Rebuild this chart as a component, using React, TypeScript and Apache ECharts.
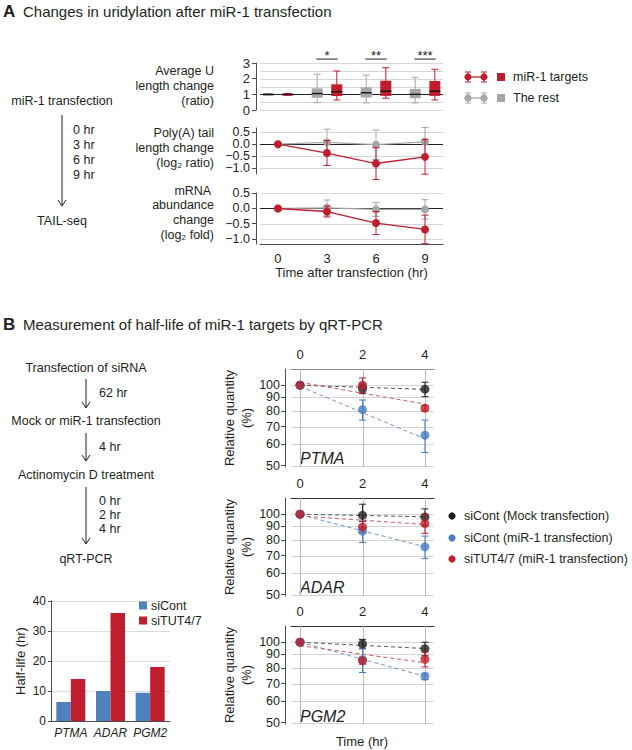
import React, { useEffect, useRef } from 'react';
import * as echarts from 'echarts';

const FONT = '"Liberation Sans", Arial, Helvetica, sans-serif';
const TXT = '#231f20';
const AXIS = '#4d4d4d';
const RED = '#be1e2d';
const GRAY = '#a6a6a6';
const BLUE = '#4a7dbf';
const BLACK = '#231f20';
const BAR_BLUE = '#4f81bd';

// ---------------- Panel A data ----------------
const aTimes = [0, 3, 6, 9];
// [min, q1, median, q3, max]
const restBox = [
  [0.95, 0.97, 1.0, 1.03, 1.05],
  [0.47, 0.78, 1.05, 1.38, 2.28],
  [0.45, 0.8, 1.1, 1.45, 2.23],
  [0.45, 0.75, 1.0, 1.35, 2.09],
];
const targetBox = [
  [0.94, 0.96, 1.0, 1.04, 1.06],
  [0.64, 0.89, 1.17, 1.64, 2.49],
  [0.75, 0.9, 1.2, 1.87, 2.7],
  [0.64, 0.9, 1.2, 1.85, 2.6],
];
const sigTimes = [3, 6, 9];
const sigLabels = ['*', '**', '***'];
const sigLineY = 3.25;
const uTicks = [0, 1, 2, 3];
const uGridLines = [0, 0.5, 1.5, 2, 2.5, 3];
const logTicks = [-1, -0.5, 0, 0.5];
const logTicksA = [-0.5, 0.5];
const logTicksB = [-1, 0];
const logGridLines = [-1, -0.5, 0.5];

const polyTargets = [0, -0.37, -0.81, -0.53];
const polyTargetsErr = [0, 0.52, 0.67, 0.73];
const polyRest = [0, 0.08, -0.02, 0.1];
const polyRestErr = [0, 0.55, 0.62, 0.6];

const mrnaTargets = [0, -0.1, -0.48, -0.69];
const mrnaTargetsErr = [0, 0.18, 0.38, 0.47];
const mrnaRest = [0, 0.02, -0.03, -0.03];
const mrnaRestErr = [0, 0.26, 0.23, 0.32];

// ---------------- Panel B data ----------------
const bTimes = [0, 2, 4];
const genes = ['PTMA', 'ADAR', 'PGM2'];
const mockMean = [[100, 97, 96.6], [100, 99, 97.7], [100, 98.5, 94.5]];
const mockErr = [[0, 4, 6], [0, 10, 7], [0, 4, 5.5]];
const contMean = [[100, 81, 65], [100, 86.4, 75.5], [100, 86, 74.5]];
const contErr = [[0, 7, 9], [0, 8, 7.3], [0, 9, 2]];
const tutMean = [[100, 100, 82], [100, 89.6, 92.3], [100, 85.3, 86.3]];
const tutErr = [[0, 6.5, 2], [0, 4.3, 7.5], [0, 2.5, 5.5]];
const fitX = [0, 4];
const mockFit = [[100, 96.5], [100, 97.8], [100, 94.7]];
const contFit = [[99, 63], [99.5, 75.5], [100, 74.5]];
const tutFit = [[102.5, 85], [98.5, 91.5], [97, 83.8]];
const qTicks = [50, 60, 70, 80, 90, 100];
const qTicksA = [60, 80, 100];
const qTicksB = [50, 70, 90];

// ---------------- Half-life bars ----------------
const halfLifeCont = [6.3, 10, 9.4];
const halfLifeTut = [14, 36, 18];

const lg = (v: number) => Math.log10(v);

function errRender(color: string, cap: number) {
  return (params: any, api: any) => {
    const x = api.value(0);
    const lo = api.coord([x, api.value(1)]);
    const hi = api.coord([x, api.value(2)]);
    const st = { stroke: color, lineWidth: 1 };
    return {
      type: 'group',
      children: [
        { type: 'line', shape: { x1: lo[0], y1: lo[1], x2: hi[0], y2: hi[1] }, style: st },
        { type: 'line', shape: { x1: lo[0] - cap, y1: lo[1], x2: lo[0] + cap, y2: lo[1] }, style: st },
        { type: 'line', shape: { x1: hi[0] - cap, y1: hi[1], x2: hi[0] + cap, y2: hi[1] }, style: st },
      ],
    };
  };
}

function errSeries(idx: number, xs: number[], means: number[], errs: number[], color: string, cap: number, tf = (v: number) => v) {
  const data: number[][] = [];
  xs.forEach((t, i) => {
    if (errs[i] > 0) data.push([t, tf(means[i] - errs[i]), tf(means[i] + errs[i])]);
  });
  return {
    type: 'custom', xAxisIndex: idx, yAxisIndex: idx, silent: true, z: 3, clip: false,
    encode: { x: 0, y: [1, 2] },
    data,
    renderItem: errRender(color, cap),
  };
}

function boxSeries(offset: number, boxes: number[][], color: string) {
  return {
    type: 'custom', xAxisIndex: 0, yAxisIndex: 0, silent: true, z: 3, clip: false,
    encode: { x: 0, y: [1, 2, 3, 4, 5] },
    data: aTimes.map((t, i) => [t, ...boxes[i]]),
    renderItem: (params: any, api: any) => {
      const x = api.value(0) + offset;
      const c = (v: number) => api.coord([x, v]);
      const pMin = c(api.value(1));
      const pQ1 = c(api.value(2));
      const pMd = c(api.value(3));
      const pQ3 = c(api.value(4));
      const pMax = c(api.value(5));
      const xc = pMd[0];
      const hw = 5.5;
      const cw = 3.5;
      const st = { stroke: color, lineWidth: 1 };
      return {
        type: 'group',
        children: [
          { type: 'line', shape: { x1: xc, y1: pMax[1], x2: xc, y2: pMin[1] }, style: st },
          { type: 'line', shape: { x1: xc - cw, y1: pMax[1], x2: xc + cw, y2: pMax[1] }, style: st },
          { type: 'line', shape: { x1: xc - cw, y1: pMin[1], x2: xc + cw, y2: pMin[1] }, style: st },
          { type: 'rect', shape: { x: xc - hw, y: pQ3[1], width: hw * 2, height: Math.max(pQ1[1] - pQ3[1], 2) }, style: { fill: color } },
          { type: 'line', shape: { x1: xc - hw, y1: pMd[1], x2: xc + hw, y2: pMd[1] }, style: { stroke: '#111', lineWidth: 1.4 } },
        ],
      };
    },
  };
}

function hGrid(idx: number, vals: number[], color: string, width = 1, z = 1) {
  return {
    type: 'custom', xAxisIndex: idx, yAxisIndex: idx, silent: true, z,
    encode: { x: 0, y: 1 },
    data: vals.map((v) => [0, v]),
    renderItem: (params: any, api: any) => {
      const cs = params.coordSys;
      const y = Math.round(api.coord([api.value(0), api.value(1)])[1]) + 0.5;
      return { type: 'line', shape: { x1: cs.x, y1: y, x2: cs.x + cs.width, y2: y }, style: { stroke: color, lineWidth: width } };
    },
  };
}

function vGrid(idx: number, vals: number[], color: string) {
  return {
    type: 'custom', xAxisIndex: idx, yAxisIndex: idx, silent: true, z: 1,
    encode: { x: 0, y: 1 },
    data: vals.map((v) => [v, 2]),
    renderItem: (params: any, api: any) => {
      const cs = params.coordSys;
      const x = Math.round(api.coord([api.value(0), api.value(1)])[0]) + 0.5;
      return { type: 'line', shape: { x1: x, y1: cs.y, x2: x, y2: cs.y + cs.height }, style: { stroke: color, lineWidth: 1 } };
    },
  };
}

function txt(text: string, x: number, y: number, o: any = {}) {
  const align = o.align || 'left';
  return {
    type: 'text', x, y, silent: true,
    style: {
      text, fill: TXT,
      fontSize: o.size || 12.5, fontFamily: FONT,
      fontWeight: o.weight || 'normal', fontStyle: o.style || 'normal',
      textAlign: align, align, textVerticalAlign: 'middle', verticalAlign: 'middle',
    },
  };
}

function arrow(x: number, y1: number, y2: number) {
  return [
    { type: 'line', silent: true, shape: { x1: x, y1, x2: x, y2 }, style: { stroke: TXT, lineWidth: 1 } },
    { type: 'polyline', silent: true, shape: { points: [[x - 4, y2 - 6], [x, y2], [x + 4, y2 - 6]] }, style: { stroke: TXT, lineWidth: 1, fill: null } },
  ];
}

function legendA(y: number, color: string, label: string) {
  const st = { stroke: color, lineWidth: 1 };
  const els: any[] = [
    { type: 'line', shape: { x1: 468, y1: y, x2: 484, y2: y }, style: { stroke: color, lineWidth: 1.3 } },
  ];
  [468, 484].forEach((x) => {
    els.push({ type: 'line', shape: { x1: x, y1: y - 5, x2: x, y2: y + 5 }, style: st });
    els.push({ type: 'line', shape: { x1: x - 3, y1: y - 5, x2: x + 3, y2: y - 5 }, style: st });
    els.push({ type: 'line', shape: { x1: x - 3, y1: y + 5, x2: x + 3, y2: y + 5 }, style: st });
    els.push({ type: 'circle', shape: { cx: x, cy: y, r: 3.6 }, style: { fill: color } });
  });
  els.push({ type: 'rect', shape: { x: 497, y: y - 4, width: 8, height: 8 }, style: { fill: color } });
  els.push(txt(label, 513, y));
  return els.map((e) => ({ ...e, silent: true }));
}

function buildOption() {
  const lab13 = { color: TXT, fontSize: 13, fontFamily: FONT, showMinLabel: true, showMaxLabel: true, hideOverlap: false };
  const labTight = { ...lab13, fontSize: 12.5, lineHeight: 11 };
  const grids = [
    { left: 260, top: 63, width: 183, height: 47 },
    { left: 260, top: 128, width: 183, height: 46 },
    { left: 260, top: 193, width: 183, height: 51 },
    { left: 291, top: 369, width: 143, height: 98 },
    { left: 291, top: 498, width: 143, height: 98 },
    { left: 291, top: 626, width: 143, height: 98 },
    { left: 51, top: 601, width: 119, height: 120 },
  ].map((g) => ({ ...g, containLabel: false, outerBoundsMode: 'none' }));

  const half = (v: number) => Math.abs(v * 2 - Math.round(v * 2)) < 1e-6;
  const fmtLog = (v: number) => (half(v) ? (v < 0 ? '\u2212' : '') + Math.abs(v).toFixed(1) : '');

  const xAxes: any[] = [0, 1, 2].map((i) => ({
    type: 'value', gridIndex: i, min: -1.1, max: 10.1, show: i === 2,
    axisLine: { show: true, onZero: false, lineStyle: { color: AXIS, width: 1 } },
    axisTick: { show: false },
    axisLabel: { ...lab13, customValues: aTimes, margin: 8, formatter: (v: number) => String(v) },
    splitLine: { show: false },
    name: i === 2 ? 'Time after transfection (hr)' : '',
    nameLocation: 'middle', nameGap: 21,
    nameTextStyle: { color: TXT, fontSize: 13, fontFamily: FONT },
  }));
  [0, 1, 2].forEach((g) => {
    xAxes.push({
      type: 'value', gridIndex: 3 + g, position: 'top', min: -0.29, max: 4.29,
      axisLine: { show: true, onZero: false, lineStyle: { color: g === 0 ? '#8c8c8c' : '#333', width: 1.2 } },
      axisTick: { show: false },
      axisLabel: { ...lab13, customValues: bTimes, margin: 8, formatter: (v: number) => String(v) },
      splitLine: { show: false },
    });
  });
  xAxes.push({
    type: 'category', gridIndex: 6, data: genes,
    axisLine: { show: true, onZero: false, lineStyle: { color: AXIS, width: 1 } },
    axisTick: { show: false },
    axisLabel: { color: TXT, fontSize: 12, fontFamily: FONT, fontStyle: 'italic', margin: 6, interval: 0, hideOverlap: false },
    splitLine: { show: false },
  });

  const yBase = {
    type: 'value', offset: 4, position: 'left',
    axisLine: { show: true, onZero: false, lineStyle: { color: AXIS, width: 1 } },
    splitLine: { show: false },
  };
  const tickOf = (vals: number[]) => ({ show: true, length: 4, customValues: vals, lineStyle: { color: AXIS } });
  const yAxes: any[] = [
    {
      ...yBase, gridIndex: 0, min: 0, max: 3,
      axisTick: tickOf(uTicks),
      axisLabel: { ...lab13, customValues: uTicks, margin: 6, formatter: (v: number) => (Number.isInteger(v) ? String(v) : '') },
    },
    {
      ...yBase, gridIndex: 1, min: -1.25, max: 0.68,
      axisTick: tickOf(logTicksA),
      axisLabel: { ...labTight, customValues: logTicksA, margin: 6, formatter: fmtLog },
    },
    {
      ...yBase, gridIndex: 2, min: -1.17, max: 0.51,
      axisTick: tickOf(logTicks),
      axisLabel: { ...labTight, customValues: logTicks, margin: 6, formatter: fmtLog },
    },
  ];
  const qFmt = (v: number) => {
    const r = Math.pow(10, v);
    const n = Math.round(r);
    return Math.abs(r - n) < 0.05 && n % 10 === 0 ? String(n) : '';
  };
  [0, 1, 2].forEach((g) => {
    yAxes.push({
      ...yBase, gridIndex: 3 + g, offset: 6, min: lg(49.4), max: lg(115),
      axisTick: tickOf(qTicksA.map(lg)),
      axisLabel: { ...labTight, customValues: qTicksA.map(lg), margin: 5, formatter: qFmt },
      name: 'Relative quantity\n(%)', nameLocation: 'middle', nameRotate: 90, nameGap: 28,
      nameTextStyle: { color: TXT, fontSize: 13, fontFamily: FONT, lineHeight: 17 },
    });
  });
  yAxes.push({
    type: 'value', gridIndex: 6, min: 0, max: 40, interval: 10,
    axisLine: { show: true, onZero: false, lineStyle: { color: AXIS, width: 1 } },
    axisTick: { show: true, length: 3, lineStyle: { color: AXIS } },
    axisLabel: { color: TXT, fontSize: 12, fontFamily: FONT, margin: 5, showMinLabel: true, showMaxLabel: true },
    splitLine: { show: true, lineStyle: { color: '#dcdcdc', width: 1 } },
    name: 'Half-life (hr)', nameLocation: 'middle', nameRotate: 90, nameGap: 24,
    nameTextStyle: { color: TXT, fontSize: 13, fontFamily: FONT },
  });
  // secondary label-only axes (interleaved tick labels, so none are dropped)
  yAxes.push({
    ...yBase, gridIndex: 1, min: -1.25, max: 0.68,
    axisLine: { show: false, onZero: false },
    axisTick: tickOf(logTicksB),
    axisLabel: { ...labTight, customValues: logTicksB, margin: 6, formatter: fmtLog },
  });
  [0, 1, 2].forEach((g) => {
    yAxes.push({
      ...yBase, gridIndex: 3 + g, offset: 6, min: lg(49.4), max: lg(115),
      axisLine: { show: false, onZero: false },
      axisTick: tickOf(qTicksB.map(lg)),
      axisLabel: { ...labTight, customValues: qTicksB.map(lg), margin: 5, formatter: qFmt },
    });
  });

  const series: any[] = [];
  // gridlines panel A
  series.push(hGrid(0, uGridLines, '#d6d6d6'));
  series.push(hGrid(0, [1], '#222', 1.2, 2));
  series.push(hGrid(1, logGridLines, '#d6d6d6'));
  series.push(hGrid(1, [0], '#222', 1.2, 2));
  series.push(hGrid(2, logGridLines, '#d6d6d6'));
  series.push(hGrid(2, [0], '#222', 1.2, 2));

  // boxes
  series.push(boxSeries(-0.6, restBox, GRAY));
  series.push(boxSeries(0.6, targetBox, RED));
  // significance marks
  series.push({
    type: 'custom', xAxisIndex: 0, yAxisIndex: 0, silent: true, z: 5, clip: false,
    encode: { x: 0, y: 1 },
    data: sigTimes.map((t) => [t, sigLineY]),
    renderItem: (params: any, api: any) => {
      const t = api.value(0);
      const y = api.value(1);
      const p1 = api.coord([t - 0.65, y]);
      const p2 = api.coord([t + 0.65, y]);
      return {
        type: 'group',
        children: [
          { type: 'line', shape: { x1: p1[0], y1: p1[1], x2: p2[0], y2: p2[1] }, style: { stroke: TXT, lineWidth: 1 } },
          {
            type: 'text', x: (p1[0] + p2[0]) / 2, y: p1[1] - 4,
            style: { text: sigLabels[params.dataIndex], fill: TXT, fontSize: 13, fontFamily: FONT, textAlign: 'center', align: 'center', textVerticalAlign: 'middle', verticalAlign: 'middle' },
          },
        ],
      };
    },
  });

  // line panels A
  const lineA = (idx: number, vals: number[], errs: number[], color: string, z: number) => {
    series.push({ ...errSeries(idx, aTimes, vals, errs, color, 3.5), z: z - 1 });
    series.push({
      type: 'line', xAxisIndex: idx, yAxisIndex: idx, silent: true, z,
      data: aTimes.map((t, i) => [t, vals[i]]),
      symbol: 'circle', symbolSize: 8, showAllSymbol: true,
      itemStyle: { color }, lineStyle: { color, width: 1.3 },
    });
  };
  lineA(1, polyRest, polyRestErr, GRAY, 4);
  lineA(1, polyTargets, polyTargetsErr, RED, 6);
  lineA(2, mrnaRest, mrnaRestErr, GRAY, 4);
  lineA(2, mrnaTargets, mrnaTargetsErr, RED, 6);

  // panel B
  const groups = [
    { mean: mockMean, err: mockErr, fit: mockFit, color: BLACK, fitColor: '#555555' },
    { mean: contMean, err: contErr, fit: contFit, color: BLUE, fitColor: '#7097c8' },
    { mean: tutMean, err: tutErr, fit: tutFit, color: RED, fitColor: '#d0575f' },
  ];
  [0, 1, 2].forEach((g) => {
    const idx = 3 + g;
    series.push(hGrid(idx, qTicks.map(lg), '#d4d4d4'));
    series.push(vGrid(idx, bTimes, '#b8b8b8'));
    groups.forEach((gr) => {
      series.push({
        type: 'line', xAxisIndex: idx, yAxisIndex: idx, silent: true, z: 2,
        data: fitX.map((x, i) => [x, lg(gr.fit[g][i])]),
        symbol: 'none', lineStyle: { color: gr.fitColor, width: 1, type: [4, 3] },
      });
    });
    [2, 1, 0].forEach((k) => {
      const gr = groups[k];
      series.push({ ...errSeries(idx, bTimes, gr.mean[g], gr.err[g], gr.color, 3.5, lg), z: 3 + k });
      series.push({
        type: 'scatter', xAxisIndex: idx, yAxisIndex: idx, silent: true, z: 4 + k,
        data: bTimes.map((t, i) => [t, lg(gr.mean[g][i])]),
        symbolSize: 9, itemStyle: { color: gr.color },
      });
    });
  });

  // half-life bars
  series.push({
    type: 'bar', name: 'siCont', xAxisIndex: 6, yAxisIndex: 6, silent: true,
    data: halfLifeCont, barWidth: 14.5, barGap: '0%', itemStyle: { color: BAR_BLUE },
  });
  series.push({
    type: 'bar', name: 'siTUT4/7', xAxisIndex: 6, yAxisIndex: 6, silent: true,
    data: halfLifeTut, barWidth: 14.5, barGap: '0%', itemStyle: { color: RED },
  });

  const graphics: any[] = [
    txt('A', 3, 11, { size: 17, weight: 'bold' }),
    txt('Changes in uridylation after miR-1 transfection', 23, 11, { size: 15 }),
    txt('Average U', 214, 71, { align: 'right' }),
    txt('length change', 214, 86, { align: 'right' }),
    txt('(ratio)', 214, 100.7, { align: 'right' }),
    txt('Poly(A) tail', 214, 132.7, { align: 'right' }),
    txt('length change', 214, 147.7, { align: 'right' }),
    txt('(log\u2082 ratio)', 214, 162.7, { align: 'right' }),
    txt('mRNA ', 214, 190.7, { align: 'right' }),
    txt('abundance', 214, 205, { align: 'right' }),
    txt('change', 214, 220, { align: 'right' }),
    txt('(log\u2082 fold)', 214, 235, { align: 'right' }),
    txt('miR-1 transfection', 62, 100.7, { align: 'center' }),
    ...arrow(62, 115, 206),
    txt('0 hr', 73, 130),
    txt('3 hr', 73, 145),
    txt('6 hr', 73, 160),
    txt('9 hr', 73, 175),
    txt('TAIL-seq', 62, 221, { align: 'center' }),
    ...legendA(77, RED, 'miR-1 targets'),
    ...legendA(98, GRAY, 'The rest'),

    txt('B', 3, 324, { size: 17, weight: 'bold' }),
    txt('Measurement of half-life of miR-1 targets by qRT-PCR', 23, 324, { size: 15 }),
    txt('Transfection of siRNA', 86, 368, { align: 'center' }),
    ...arrow(86, 379, 408),
    txt('62 hr', 99, 393),
    txt('Mock or miR-1 transfection', 86, 421, { align: 'center' }),
    ...arrow(86, 433, 461),
    txt('4 hr', 99, 447),
    txt('Actinomycin D treatment', 86, 475, { align: 'center' }),
    ...arrow(86, 487, 544),
    txt('0 hr', 99, 501),
    txt('2 hr', 99, 515),
    txt('4 hr', 99, 529),
    txt('qRT-PCR', 86, 559, { align: 'center' }),

    txt(genes[0], 300, 458, { size: 16, style: 'italic' }),
    txt(genes[1], 300, 587, { size: 16, style: 'italic' }),
    txt(genes[2], 300, 716, { size: 16, style: 'italic' }),
    txt('Time (hr)', 362, 741, { align: 'center', size: 13 }),

    { type: 'circle', silent: true, shape: { cx: 452, cy: 516, r: 3.6 }, style: { fill: BLACK } },
    txt('siCont (Mock transfection)', 464, 516),
    { type: 'circle', silent: true, shape: { cx: 452, cy: 538, r: 3.6 }, style: { fill: BLUE } },
    txt('siCont (miR-1 transfection)', 464, 538),
    { type: 'circle', silent: true, shape: { cx: 452, cy: 559, r: 3.6 }, style: { fill: RED } },
    txt('siTUT4/7 (miR-1 transfection)', 464, 559),
  ];

  return {
    animation: false,
    backgroundColor: '#ffffff',
    textStyle: { fontFamily: FONT },
    grid: grids,
    xAxis: xAxes,
    yAxis: yAxes,
    legend: {
      data: ['siCont', 'siTUT4/7'], orient: 'vertical', left: 139, top: 599,
      itemWidth: 8, itemHeight: 8, itemGap: 2, icon: 'rect', padding: 0, selectedMode: false,
      textStyle: { color: TXT, fontSize: 12.5, fontFamily: FONT, padding: [0, 0, 0, -1] },
    },
    series,
    graphic: { elements: graphics },
  };
}

export default function App() {
  const ref = useRef<HTMLDivElement>(null);
  useEffect(() => {
    const chart = echarts.init(ref.current as HTMLDivElement, null, { renderer: 'svg' });
    chart.setOption(buildOption() as any);
    return () => chart.dispose();
  }, []);
  return (
    <div
      ref={ref}
      style={{ position: 'fixed', left: 0, top: 0, width: 632, height: 750, background: '#fff' }}
    />
  );
}
